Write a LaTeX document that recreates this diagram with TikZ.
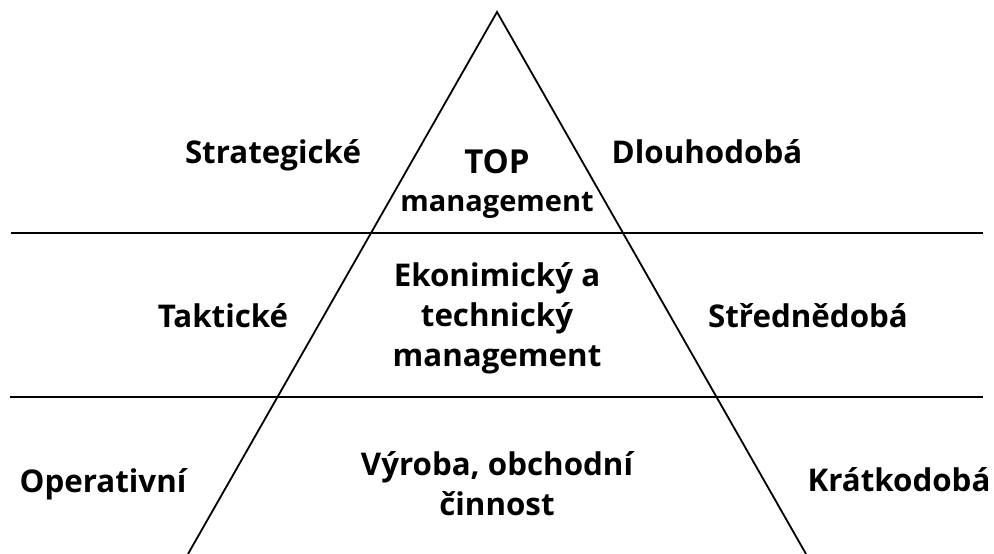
\documentclass[tikz,border=0pt]{standalone}
\usepackage{fontspec}
\setmainfont{Open Sans}
\usepackage{tikz}

\begin{document}
\begin{tikzpicture}[x=1pt,y=-1pt]
\tikzstyle{every node}=[font=\fontsize{31.3}{40}\selectfont\bfseries,inner sep=0pt,align=center];
\useasboundingbox (0,0) rectangle (994,554);
% triangle and levels
\coordinate (apex) at (497,12);
\coordinate (bl) at (188,554);
\coordinate (br) at (806,554);
\coordinate (l1) at (11,233);
\coordinate (r1) at (983,233);
\coordinate (l2) at (10,397);
\coordinate (r2) at (983,397);
\draw[line width=1.8pt] (bl) -- (apex) -- (br);
\draw[line width=1.5pt] (l1) -- (r1);
\draw[line width=1.5pt] (l2) -- (r2);
% levels inside
\node[font=\fontsize{29}{38}\selectfont\bfseries] (top) at (497,184) {{\fontsize{33}{38}\selectfont TOP}\\management};
\node (middle) at (497,318) {Ekonimický a\\technický\\management};
\node (bottom) at (497,484) {Výroba, obchodní\\činnost};
% left column
\node[anchor=base] (strategic) at (273,163) {Strategické};
\node[anchor=base] (tactical) at (223,327) {Taktické};
\node[anchor=base] (operative) at (103,492) {Operativní};
% right column
\node[anchor=base] (long) at (707,163) {Dlouhodobá};
\node[anchor=base] (medium) at (808,327) {Střednědobá};
\node[anchor=base] (short) at (899,491) {Krátkodobá};
\end{tikzpicture}
\end{document}
